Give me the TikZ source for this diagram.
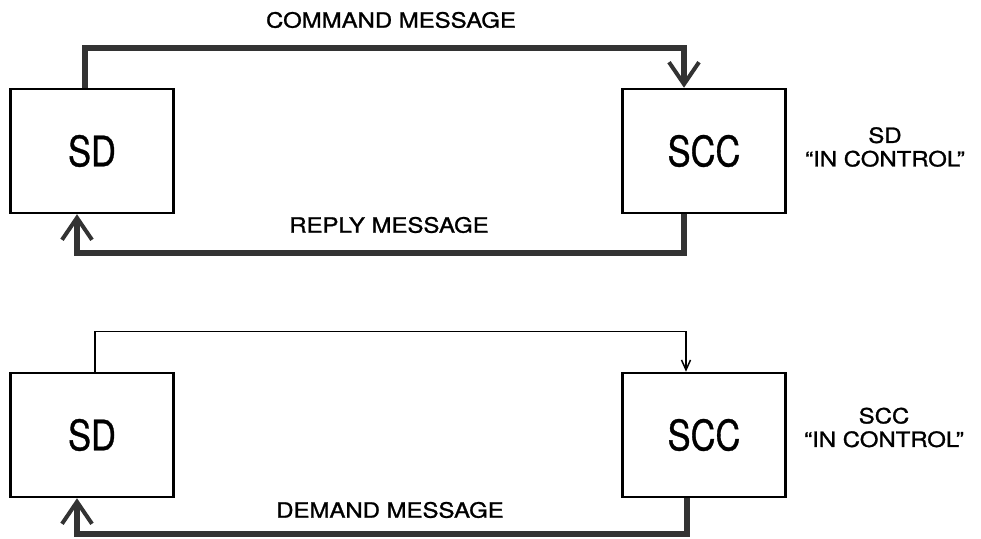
\documentclass[tikz,border=0pt]{standalone}
\usepackage{fontspec}
\usepackage{tikz}
\usetikzlibrary{arrows.meta, positioning, calc}

\newfontfamily\boxfont[Ligatures=TeX,FakeStretch=0.82,FakeBold=0.8]{TeX Gyre Heros}
\newfontfamily\msgfont[Ligatures=TeX,FakeStretch=1.14,FakeBold=1.2]{TeX Gyre Heros}

\begin{document}
\begin{tikzpicture}[x=1pt,y=1pt,
                    box/.style={draw,line width=2.5pt,fill=white,minimum width=163pt,minimum height=124pt,
                                font=\boxfont\fontsize{42}{42}\selectfont},
                    msg/.style={font=\msgfont\fontsize{21}{21}\selectfont},
                    ctrl/.style={align=center,font=\msgfont\fontsize{21}{23.5}\selectfont},
                    heavy/.style={draw=black!80,line width=6pt},
                    light/.style={draw=black,line width=1.5pt},
                    heavytip/.style={-{Straight Barb[length=22pt,width=30pt,line width=4pt]}},
                    lighttip/.style={-{Straight Barb[length=10pt,width=9pt,line width=1.5pt]}}]
 \useasboundingbox (0,0) rectangle (981,538);

%Upper pair: SD in control
 \node[box] (sdA) at (92,387) {SD};
 \node[box] (sccA) at (704,387) {SCC};
 \node[ctrl] (ctrlA) at (885,391) {SD\\``IN CONTROL''};

 \draw[heavy,heavytip] ([xshift=-7pt]sdA.north) -- ++(0,40) -| ([xshift=-20pt]sccA.north);
 \draw[heavy,heavytip] ([xshift=-20pt]sccA.south) -- ++(0,-39) -| ([xshift=-15pt]sdA.south);

 \node[msg] (command) at (391,518) {COMMAND MESSAGE};
 \node[msg] (reply) at (389,313) {REPLY MESSAGE};

%Lower pair: SCC in control
 \node[box] (sdB) at (92,103) {SD};
 \node[box] (sccB) at (704,103) {SCC};
 \node[ctrl] (ctrlB) at (884,110.5) {SCC\\``IN CONTROL''};

 \draw[light,lighttip] ([xshift=3pt]sdB.north) -- ++(0,40) -| ([xshift=-18pt]sccB.north);
 \draw[heavy,heavytip] ([xshift=-17pt]sccB.south) -- ++(0,-36) -| ([xshift=-15pt]sdB.south);

 \node[msg] (demand) at (390,28) {DEMAND MESSAGE};

\end{tikzpicture}
\end{document}
